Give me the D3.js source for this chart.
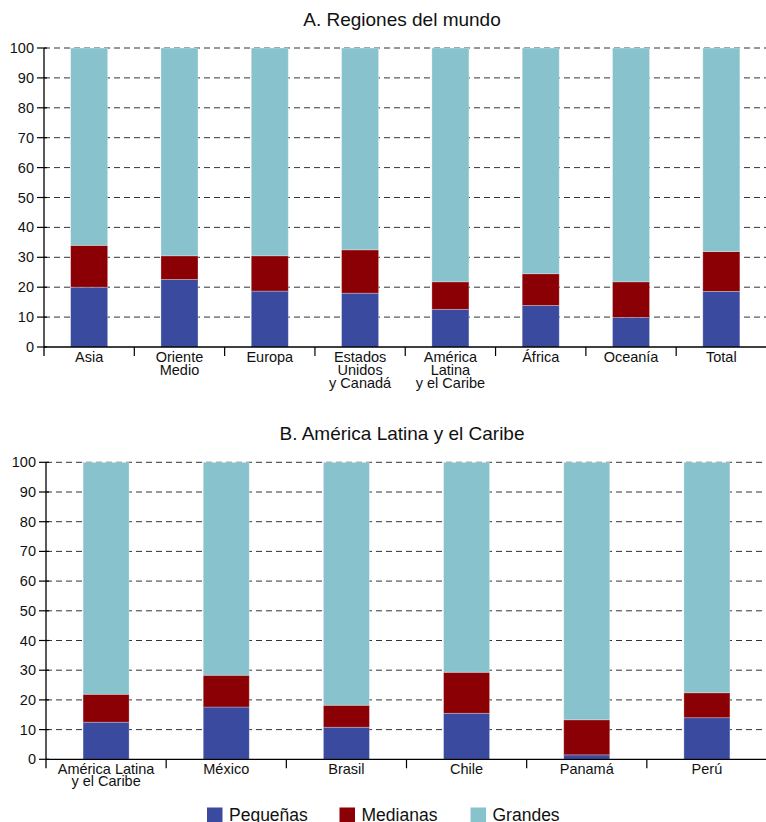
<!DOCTYPE html>
<html><head><meta charset="utf-8">
<script src="https://cdn.jsdelivr.net/npm/d3@7"></script>
<style>
body{margin:0;background:#fff;}
svg{display:block;font-family:"Liberation Sans",Arial,sans-serif;}
</style></head>
<body><svg id="c" width="766" height="822"></svg>
<script>
const seriesNames = ["Pequeñas","Medianas","Grandes"];
const seriesColors = ["#394a9f","#8b0004","#88c3cd"];
const yTicks = [0,10,20,30,40,50,60,70,80,90,100];

const regions = ["Asia","Oriente\nMedio","Europa","Estados\nUnidos\ny Canadá","América\nLatina\ny el Caribe","África","Oceanía","Total"];
const regionSmall  = [20.0, 22.6, 18.7, 18.0, 12.6, 13.9, 9.9, 18.6];
const regionMedium = [14.0, 7.9, 11.8, 14.5, 9.2, 10.6, 11.9, 13.3];
const regionLarge  = [66.0, 69.5, 69.5, 67.5, 78.2, 75.5, 78.2, 68.1];

const countries = ["América Latina\ny el Caribe","México","Brasil","Chile","Panamá","Perú"];
const countrySmall  = [12.5, 17.6, 10.8, 15.5, 1.5, 14.0];
const countryMedium = [9.4, 10.7, 7.4, 13.8, 11.8, 8.4];
const countryLarge  = [78.1, 71.7, 81.8, 70.7, 86.7, 77.6];

const svg = d3.select("#c");

function drawChart(opts){
  const {title, titleY, cats, small, medium, large, x0, x1, yTop, yBot, barFrac, lineH} = opts;
  const data = cats.map((c,i)=>({cat:c, s:small[i], m:medium[i], l:large[i]}));
  const stack = d3.stack().keys(["s","m","l"])(data);
  const x = d3.scaleBand().domain(cats).range([x0,x1]).padding(0);
  const y = d3.scaleLinear().domain([0,100]).range([yBot,yTop]);
  const g = svg.append("g");

  g.append("text").attr("x",402).attr("y",titleY).attr("text-anchor","middle")
    .attr("font-size",19).attr("fill","#111").text(title);

  // grid
  g.append("g").selectAll("line").data(yTicks.filter(d=>d>0)).join("line")
    .attr("x1",x0).attr("x2",766).attr("y1",d=>y(d)).attr("y2",d=>y(d))
    .attr("stroke","#333").attr("stroke-width",1).attr("stroke-dasharray","6,4");

  // bars
  const bw = x.bandwidth()*barFrac;
  g.append("g").selectAll("g").data(stack).join("g")
    .attr("fill",(d,i)=>seriesColors[i])
    .selectAll("rect").data(d=>d).join("rect")
    .attr("x",d=>x(d.data.cat)+(x.bandwidth()-bw)/2)
    .attr("width",bw)
    .attr("y",d=>y(d[1]))
    .attr("height",d=>y(d[0])-y(d[1]))
    .attr("stroke","rgba(255,255,255,0.35)").attr("stroke-width",0.8);

  // y axis
  const ya = g.append("g").attr("transform",`translate(${x0},0)`);
  ya.append("line").attr("x1",0).attr("x2",0).attr("y1",y(100)).attr("y2",yBot+9).attr("stroke","#000").attr("stroke-width",1.3);
  ya.selectAll("line.t").data(yTicks).join("line").attr("class","t")
    .attr("x1",-7).attr("x2",3).attr("y1",d=>y(d)).attr("y2",d=>y(d)).attr("stroke","#000").attr("stroke-width",1.2);
  ya.selectAll("text").data(yTicks).join("text")
    .attr("x",-10).attr("y",d=>y(d)).attr("dy","0.35em").attr("text-anchor","end")
    .attr("font-size",14.5).attr("fill","#111").text(d=>d);

  // x axis
  const xa = g.append("g");
  xa.append("line").attr("x1",x0).attr("x2",766).attr("y1",yBot).attr("y2",yBot).attr("stroke","#000").attr("stroke-width",1.3);
  xa.selectAll("line.t").data(cats.slice(1)).join("line").attr("class","t")
    .attr("x1",d=>x(d)).attr("x2",d=>x(d)).attr("y1",yBot).attr("y2",yBot+9).attr("stroke","#000").attr("stroke-width",1.2);
  const lbl = xa.selectAll("text").data(cats).join("text")
    .attr("text-anchor","middle").attr("font-size",14.5).attr("fill","#111")
    .attr("transform",d=>`translate(${x(d)+x.bandwidth()/2},${yBot+15})`);
  lbl.each(function(d){
    d3.select(this).selectAll("tspan").data(d.split("\n")).join("tspan")
      .attr("x",0).attr("y",(t,i)=>i*lineH).text(t=>t);
  });
}

drawChart({title:"A. Regiones del mundo", titleY:26, cats:regions, small:regionSmall, medium:regionMedium, large:regionLarge,
  x0:44, x1:766.5, yTop:48, yBot:347, barFrac:0.41, lineH:13});
drawChart({title:"B. América Latina y el Caribe", titleY:440, cats:countries, small:countrySmall, medium:countryMedium, large:countryLarge,
  x0:46, x1:767, yTop:462.3, yBot:759.3, barFrac:0.383, lineH:12});

// legend
const legX = [207, 339.5, 470.5];
const lg = svg.append("g");
seriesNames.forEach((n,i)=>{
  lg.append("rect").attr("x",legX[i]).attr("y",807.5).attr("width",15.5).attr("height",15.5).attr("fill",seriesColors[i]);
  lg.append("text").attr("x",legX[i]+22).attr("y",821).attr("font-size",17.5).attr("fill","#111").text(n);
});
</script></body></html>
